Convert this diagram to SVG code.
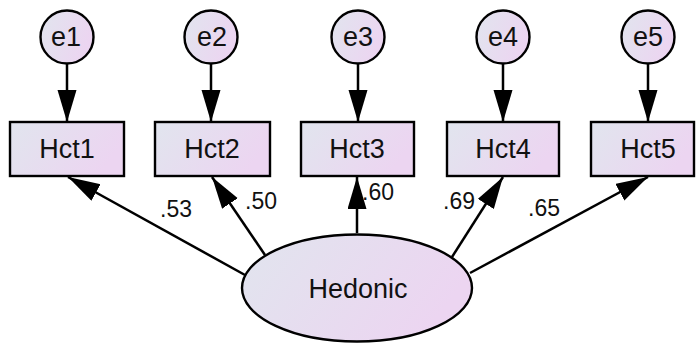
<svg xmlns="http://www.w3.org/2000/svg" width="696" height="343" viewBox="0 0 696 343">
  <defs>
    <linearGradient id="fill" x1="0" y1="0" x2="1" y2="0.35">
      <stop offset="0" stop-color="#e1e5ee"/>
      <stop offset="1" stop-color="#ecd5f1"/>
    </linearGradient>
    <marker id="head" markerUnits="userSpaceOnUse" markerWidth="34" markerHeight="20" refX="32" refY="9.5" orient="auto">
      <path d="M0,0 L32,9.5 L0,19 z" fill="#000"/>
    </marker>
  </defs>
  <style>
    .shape { fill: url(#fill); stroke: #000; stroke-width: 2.4; }
    .lbl { font-family: "Liberation Sans", Arial, sans-serif; fill: #111; }
    .obs { font-size: 27px; text-anchor: middle; }
    .err { font-size: 27px; text-anchor: middle; }
    .coef { font-size: 23px; }
    .conn line { stroke: #000; stroke-width: 2.5; marker-end: url(#head); }
  </style>

  <!-- connectors -->
  <g id="connectors" class="conn">
    <line x1="67" y1="64" x2="67" y2="122"/>
    <line x1="211" y1="64" x2="211" y2="122"/>
    <line x1="358" y1="64" x2="358" y2="122"/>
    <line x1="503" y1="64" x2="503" y2="122"/>
    <line x1="648" y1="64" x2="648" y2="122"/>
    <line x1="245" y1="275" x2="68" y2="177"/>
    <line x1="265" y1="255" x2="212" y2="177"/>
    <line x1="357" y1="233" x2="357" y2="177"/>
    <line x1="452" y1="257" x2="503" y2="177"/>
    <line x1="470" y1="273" x2="648" y2="177"/>
  </g>

  <!-- loadings -->
  <g id="loadings" class="lbl coef">
    <text x="160" y="217">.53</text>
    <text x="245" y="209">.50</text>
    <text x="362" y="200">.60</text>
    <text x="443" y="209">.69</text>
    <text x="528" y="216">.65</text>
  </g>

  <!-- error terms -->
  <g id="e1"><circle class="shape" cx="67" cy="37" r="26.5"/><text class="lbl err" x="66" y="46">e1</text></g>
  <g id="e2"><circle class="shape" cx="211" cy="37" r="26.5"/><text class="lbl err" x="212" y="46">e2</text></g>
  <g id="e3"><circle class="shape" cx="358" cy="37" r="26.5"/><text class="lbl err" x="358" y="46">e3</text></g>
  <g id="e4"><circle class="shape" cx="503" cy="37" r="26.5"/><text class="lbl err" x="503" y="46">e4</text></g>
  <g id="e5"><circle class="shape" cx="648" cy="37" r="26.5"/><text class="lbl err" x="648" y="46">e5</text></g>

  <!-- observed indicators -->
  <g id="Hct1"><rect class="shape" x="10" y="122" width="114" height="54"/><text class="lbl obs" x="67" y="158">Hct1</text></g>
  <g id="Hct2"><rect class="shape" x="155" y="122" width="115" height="54"/><text class="lbl obs" x="212" y="158">Hct2</text></g>
  <g id="Hct3"><rect class="shape" x="301" y="122" width="113" height="54"/><text class="lbl obs" x="357" y="158">Hct3</text></g>
  <g id="Hct4"><rect class="shape" x="447" y="122" width="112" height="54"/><text class="lbl obs" x="503" y="158">Hct4</text></g>
  <g id="Hct5"><rect class="shape" x="591" y="122" width="103" height="54"/><text class="lbl obs" x="648" y="158">Hct5</text></g>

  <!-- latent factor -->
  <g id="Hedonic"><ellipse class="shape" cx="357" cy="288" rx="115" ry="53.5"/><text class="lbl obs" x="358" y="298">Hedonic</text></g>
</svg>
